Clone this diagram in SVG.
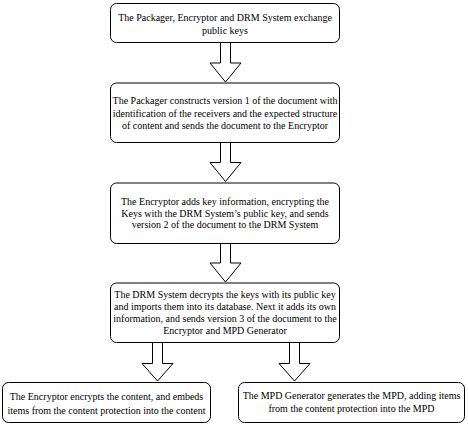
<svg xmlns="http://www.w3.org/2000/svg" width="468" height="424" viewBox="0 0 468 424">
<style>
.box{fill:#fff;stroke:#000;stroke-width:1}
.arr{fill:#fff;stroke:#000;stroke-width:1;stroke-linejoin:miter}
text{font-family:"Liberation Serif","Times New Roman",serif;font-size:10px;fill:#000;text-anchor:middle}
</style>
<rect width="468" height="424" fill="#fff"/>
<g id="connectors">
<path class="arr" d="M220.5,42.5 V63 H210 L225.5,82 L241,63 H230.5 V42.5"/>
<path class="arr" d="M220.5,142.5 V162.5 H210 L225.5,181.5 L241,162.5 H230.5 V142.5"/>
<path class="arr" d="M220.5,243.5 V263 H210 L225.5,282 L241,263 H230.5 V243.5"/>
<path class="arr" d="M152.5,342.5 V363.5 H142 L157.5,381 L173,363.5 H162.5 V342.5"/>
<path class="arr" d="M289.5,342.5 V363.5 H279 L294.5,381 L310,363.5 H299.5 V342.5"/>
</g>
<g id="n1">
<rect class="box" x="110.5" y="3.5" width="229" height="39" rx="6"/>
<text x="225" y="20.5">The Packager, Encryptor and DRM System exchange</text>
<text x="225" y="33.5">public keys</text>
</g>
<g id="n2">
<rect class="box" x="110.5" y="83" width="229" height="59.5" rx="6"/>
<text x="225" y="104">The Packager constructs version 1 of the document with</text>
<text x="225" y="116.5">identification of the receivers and the expected structure</text>
<text x="225" y="128.5">of content and sends the document to the Encryptor</text>
</g>
<g id="n3">
<rect class="box" x="110.5" y="183" width="229" height="60.5" rx="6"/>
<text x="225" y="204.5">The Encryptor adds key information, encrypting the</text>
<text x="225" y="216.5">Keys with the DRM System’s public key, and sends</text>
<text x="225" y="228">version 2 of the document to the DRM System</text>
</g>
<g id="n4">
<rect class="box" x="110.5" y="283" width="229" height="59.5" rx="6"/>
<text x="225" y="298">The DRM System decrypts the keys with its public key</text>
<text x="225" y="310">and imports them into its database. Next it adds its own</text>
<text x="225" y="322">information, and sends version 3 of the document to the</text>
<text x="225" y="334">Encryptor and MPD Generator</text>
</g>
<g id="n5">
<rect class="box" x="2.5" y="382.5" width="208" height="40" rx="6"/>
<text x="106.5" y="400">The Encryptor encrypts the content, and embeds</text>
<text x="106.5" y="413.5">items from the content protection into the content</text>
</g>
<g id="n6">
<rect class="box" x="238.5" y="382.5" width="226" height="40" rx="6"/>
<text x="351.5" y="398.5">The MPD Generator generates the MPD, adding items</text>
<text x="351.5" y="411.5">from the content protection into the MPD</text>
</g>
</svg>
